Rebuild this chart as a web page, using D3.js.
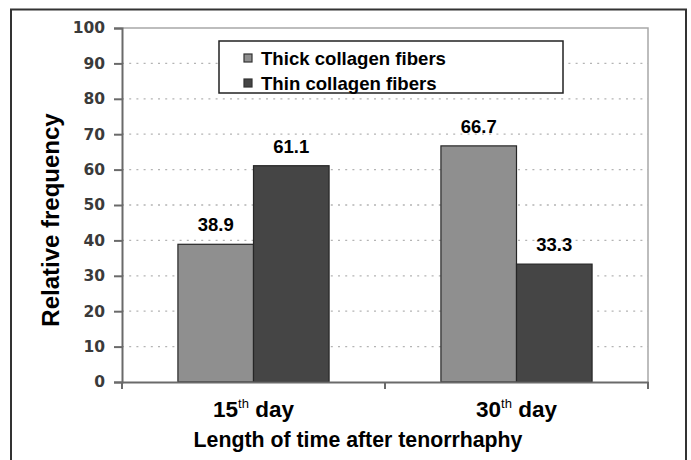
<!DOCTYPE html>
<html>
<head>
<meta charset="utf-8">
<script src="https://cdn.jsdelivr.net/npm/d3@7"></script>
<style>
  body { margin: 0; background: #fff; }
  text { font-family: "Liberation Sans", Arial, sans-serif; font-weight: bold; }
</style>
</head>
<body>
<svg id="chart"></svg>
<script>
// data
const days = ["15", "30"];
const seriesNames = ["Thick collagen fibers", "Thin collagen fibers"];
const thickValues = [38.9, 66.7];
const thinValues = [61.1, 33.3];
const yTicks = [0, 10, 20, 30, 40, 50, 60, 70, 80, 90, 100];

const colors = ["#8f8f8f", "#454545"];

var dataset = [];
for (var i = 0; i < days.length; i++) {
  dataset.push({"day": days[i], "series": seriesNames[0], "value": thickValues[i]});
  dataset.push({"day": days[i], "series": seriesNames[1], "value": thinValues[i]});
}

const canvasWidth = 691;
const canvasHeight = 460;
const margins = {"left": 122, "right": 43, "top": 28, "bottom": 78};

var svg = d3.select("#chart")
            .attr("width", canvasWidth)
            .attr("height", canvasHeight);

// outer frame
svg.append("rect")
   .attr("x", 11)
   .attr("y", 9.5)
   .attr("width", 675)
   .attr("height", 470)
   .attr("fill", "none")
   .attr("stroke", "#333")
   .attr("stroke-width", 2);

const xScale = d3.scaleBand()
                 .domain(days)
                 .range([margins["left"], canvasWidth - margins["right"]]);

const xSub = d3.scaleBand()
               .domain(seriesNames)
               .range([0, xScale.bandwidth()])
               .paddingOuter(0.74);

const yScale = d3.scaleLinear()
                 .domain([0, 100])
                 .range([canvasHeight - margins["bottom"], margins["top"]]);

const color = d3.scaleOrdinal()
                .domain(seriesNames)
                .range(colors);

// dotted grid
svg.append("g")
   .selectAll("line")
   .data(yTicks.filter((d) => d > 0 && d < 100))
   .enter()
   .append("line")
   .attr("x1", margins["left"])
   .attr("x2", canvasWidth - margins["right"])
   .attr("y1", (d) => yScale(d))
   .attr("y2", (d) => yScale(d))
   .attr("stroke", "#b4b4b4")
   .attr("stroke-width", 1.3)
   .attr("stroke-dasharray", "2,5.2");

// plot area top/right border
svg.append("path")
   .attr("d", "M" + margins["left"] + "," + yScale(100) +
              "H" + (canvasWidth - margins["right"]) +
              "V" + yScale(0))
   .attr("fill", "none")
   .attr("stroke", "#a8a8a8")
   .attr("stroke-width", 1.5);

// bars
svg.append("g")
   .selectAll("rect")
   .data(dataset)
   .enter()
   .append("rect")
   .attr("x", (d) => xScale(d["day"]) + xSub(d["series"]))
   .attr("y", (d) => yScale(d["value"]))
   .attr("width", xSub.bandwidth())
   .attr("height", (d) => yScale(0) - yScale(d["value"]))
   .attr("fill", (d) => color(d["series"]))
   .attr("stroke", "#262626")
   .attr("stroke-width", 1.2);

// value labels
svg.append("g")
   .selectAll("text")
   .data(dataset)
   .enter()
   .append("text")
   .attr("x", (d) => xScale(d["day"]) + xSub(d["series"]) + xSub.bandwidth() / 2)
   .attr("y", (d) => yScale(d["value"]) - 13)
   .attr("text-anchor", "middle")
   .style("font-size", "18.5px")
   .attr("fill", "#000")
   .text((d) => d3.format(".1f")(d["value"]));

// y axis
const yAxis = d3.axisLeft(yScale)
                .tickValues(yTicks)
                .tickSize(8)
                .tickPadding(9);

var yG = svg.append("g")
            .attr("transform", "translate(" + margins["left"] + ",0)")
            .call(yAxis);
yG.select(".domain").attr("stroke", "#6a6a6a").attr("stroke-width", 2);
yG.selectAll(".tick line").attr("stroke", "#6a6a6a").attr("stroke-width", 2);
yG.selectAll(".tick text")
  .style("font-family", "'DejaVu Sans', sans-serif")
  .style("font-weight", "bold")
  .style("font-size", "15.5px")
  .attr("fill", "#3a3a3a");

// x axis
const xAxis = d3.axisBottom(xScale)
                .tickSize(0)
                .tickFormat("");

var xG = svg.append("g")
            .attr("transform", "translate(0," + yScale(0) + ")")
            .call(xAxis);
xG.select(".domain").attr("stroke", "#6a6a6a").attr("stroke-width", 2);

// band edge ticks
var edges = days.map((d) => xScale(d)).concat([xScale(days[days.length - 1]) + xScale.bandwidth()]);
xG.selectAll(".edge")
  .data(edges)
  .enter()
  .append("line")
  .attr("x1", (d) => d)
  .attr("x2", (d) => d)
  .attr("y1", 0)
  .attr("y2", 7)
  .attr("stroke", "#6a6a6a")
  .attr("stroke-width", 2);

// category labels with superscript
var cat = svg.append("g")
             .selectAll("text")
             .data(days)
             .enter()
             .append("text")
             .attr("x", (d) => xScale(d) + xScale.bandwidth() / 2)
             .attr("y", 417)
             .attr("text-anchor", "middle")
             .style("font-size", "22.5px")
             .attr("fill", "#000");
cat.append("tspan").text((d) => d);
cat.append("tspan")
   .attr("dy", -9)
   .style("font-size", "13px")
   .style("font-weight", "normal")
   .text("th");
cat.append("tspan")
   .attr("dy", 9)
   .text(" day");

// axis titles
svg.append("text")
   .attr("x", 358)
   .attr("y", 447)
   .attr("text-anchor", "middle")
   .style("font-size", "21.3px")
   .attr("fill", "#000")
   .text("Length of time after tenorrhaphy");

svg.append("text")
   .attr("transform", "translate(59,220) rotate(-90)")
   .attr("text-anchor", "middle")
   .style("font-size", "24px")
   .attr("fill", "#000")
   .text("Relative frequency");

// legend
var legend = svg.append("g")
                .attr("transform", "translate(219,41)");

legend.append("rect")
      .attr("width", 344)
      .attr("height", 52)
      .attr("fill", "#fff")
      .attr("stroke", "#222")
      .attr("stroke-width", 1.5);

var items = legend.selectAll(".item")
                  .data(seriesNames)
                  .enter()
                  .append("g")
                  .attr("transform", (d, i) => "translate(25," + (13 + i * 25) + ")");

items.append("rect")
     .attr("width", 8)
     .attr("height", 8)
     .attr("fill", (d) => color(d))
     .attr("stroke", "#333")
     .attr("stroke-width", 1.2);

items.append("text")
     .attr("x", 17)
     .attr("y", 10.5)
     .style("font-size", "18.6px")
     .attr("fill", "#000")
     .text((d) => d);
</script>
</body>
</html>
